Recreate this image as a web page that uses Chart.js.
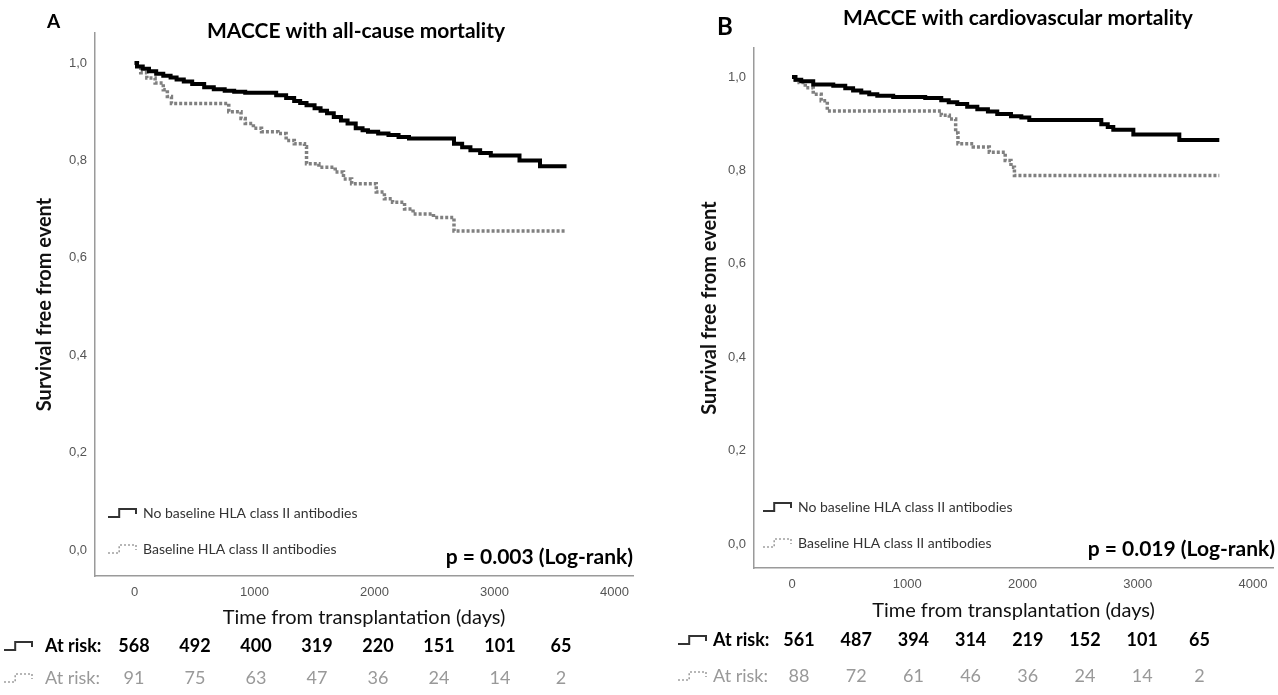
<!DOCTYPE html>
<html>
<head>
<meta charset="utf-8">
<script src="https://cdn.jsdelivr.net/npm/chart.js@4.4.1/dist/chart.umd.min.js"></script>
<style>
  html, body { margin: 0; padding: 0; background: #fff; }
  #wrap { position: relative; width: 1278px; height: 695px; overflow: hidden; }
  .panel { position: absolute; top: 0; height: 695px; }
</style>
</head>
<body>
<div id="wrap">
  <div class="panel" style="left:0;width:640px"><canvas id="chartA" width="640" height="695"></canvas></div>
  <div class="panel" style="left:640px;width:638px"><canvas id="chartB" width="638" height="695"></canvas></div>
</div>
<script>
/* ---- datos ---- */
const xTicks = [0, 1000, 2000, 3000, 4000];
const yTicks = [0, 0.2, 0.4, 0.6, 0.8, 1.0];
const seriesLabels = ['No baseline HLA class II antibodies', 'Baseline HLA class II antibodies'];

// A: MACCE with all-cause mortality
const aNoDays = [0, 20, 68, 120, 180, 239, 300, 350, 410, 480, 580, 660, 751, 830, 922, 1180, 1263, 1330, 1380, 1433, 1500, 1550, 1604, 1660, 1720, 1775, 1843, 1900, 1945, 2030, 2116, 2200, 2287, 2662, 2730, 2799, 2880, 2969, 3208, 3379, 3600];
const aNoSurv = [1.000, 0.993, 0.988, 0.983, 0.978, 0.974, 0.970, 0.966, 0.962, 0.957, 0.950, 0.946, 0.943, 0.941, 0.939, 0.934, 0.928, 0.922, 0.918, 0.913, 0.907, 0.902, 0.897, 0.889, 0.882, 0.876, 0.866, 0.862, 0.859, 0.855, 0.852, 0.848, 0.845, 0.834, 0.827, 0.821, 0.815, 0.810, 0.800, 0.788, 0.788];
const aAbDays = [0, 25, 51, 102, 171, 239, 273, 307, 785, 887, 922, 990, 1058, 1195, 1263, 1331, 1416, 1433, 1536, 1672, 1741, 1809, 2014, 2082, 2150, 2250, 2321, 2491, 2662, 3600];
const aAbSurv = [1.000, 0.989, 0.980, 0.969, 0.959, 0.945, 0.931, 0.917, 0.900, 0.886, 0.876, 0.866, 0.859, 0.855, 0.841, 0.834, 0.828, 0.793, 0.786, 0.776, 0.762, 0.752, 0.735, 0.721, 0.714, 0.700, 0.690, 0.683, 0.655, 0.655];
const aRiskNo = [568, 492, 400, 319, 220, 151, 101, 65];
const aRiskAb = [91, 75, 63, 47, 36, 24, 14, 2];

// B: MACCE with cardiovascular mortality
const bNoDays = [0, 30, 80, 184, 358, 462, 530, 601, 670, 740, 878, 1156, 1295, 1360, 1434, 1520, 1608, 1700, 1781, 1900, 1990, 2059, 2684, 2740, 2788, 2962, 3361, 3708];
const bNoSurv = [1.000, 0.994, 0.991, 0.984, 0.981, 0.976, 0.971, 0.967, 0.963, 0.960, 0.957, 0.955, 0.950, 0.946, 0.942, 0.936, 0.931, 0.926, 0.921, 0.916, 0.913, 0.908, 0.899, 0.893, 0.887, 0.877, 0.865, 0.865];
const bAbDays = [0, 30, 62, 115, 184, 253, 306, 1295, 1365, 1420, 1440, 1573, 1712, 1850, 1900, 1930, 3708];
const bAbSurv = [1.000, 0.993, 0.988, 0.977, 0.963, 0.949, 0.927, 0.918, 0.910, 0.880, 0.857, 0.850, 0.839, 0.821, 0.807, 0.789, 0.789];
const bRiskNo = [561, 487, 394, 314, 219, 152, 101, 65];
const bRiskAb = [88, 72, 61, 46, 36, 24, 14, 2];

/* ---- maquetación de cada panel ---- */
const panels = [
  {
    canvasId: 'chartA', width: 640,
    letter: 'A', letterFont: 'bold 19px Lato', letterX: 47, letterY: 22,
    title: 'MACCE with all-cause mortality', titleX: 356, titleY: 31,
    area: { left: 95, top: 33, right: 633, bottom: 576 },
    xMin: -330, xMax: 4154, yMin: -0.0534, yMax: 1.0616,
    yTitlePad: 34, xTitlePad: 6,
    legendX: 108, legendY: [513, 549],
    pText: 'p = 0.003 (Log-rank)', pX: 633, pY: 557,
    riskIconX: 4, riskLabelX: 45, riskX0: 134, riskDx: 61, riskY: [646, 678],
    noDays: aNoDays, noSurv: aNoSurv, abDays: aAbDays, abSurv: aAbSurv,
    riskNo: aRiskNo, riskAb: aRiskAb,
  },
  {
    canvasId: 'chartB', width: 638,
    letter: 'B', letterFont: 'bold 24px Lato', letterX: 77, letterY: 27,
    title: 'MACCE with cardiovascular mortality', titleX: 378, titleY: 18,
    area: { left: 114, top: 48, right: 633, bottom: 568 },
    xMin: -330, xMax: 4174, yMin: -0.051, yMax: 1.062,
    yTitlePad: 59, xTitlePad: 5,
    legendX: 123, legendY: [507, 543],
    pText: 'p = 0.019 (Log-rank)', pX: 635, pY: 549,
    riskIconX: 38, riskLabelX: 73, riskX0: 159, riskDx: 57.2, riskY: [640, 676],
    noDays: bNoDays, noSurv: bNoSurv, abDays: bAbDays, abSurv: bAbSurv,
    riskNo: bRiskNo, riskAb: bRiskAb,
  },
];

const AXIS_COLOR = '#9a9a9a';
const TICK_COLOR = '#555';

function stepIcon(ctx, x, y, w, dashed) {
  ctx.save();
  ctx.beginPath();
  ctx.moveTo(x, y + 4);
  ctx.lineTo(x + w * 0.4, y + 4);
  ctx.lineTo(x + w * 0.4, y - 4);
  ctx.lineTo(x + w, y - 4);
  ctx.lineTo(x + w, y + 1);
  ctx.lineWidth = dashed ? 1.6 : 2;
  ctx.strokeStyle = dashed ? '#a0a0a0' : '#333';
  ctx.setLineDash(dashed ? [2, 2] : []);
  ctx.stroke();
  ctx.restore();
}

function annotations(p) {
  return {
    id: 'annot_' + p.canvasId,
    afterDraw(chart) {
      const ctx = chart.ctx;
      ctx.save();
      ctx.textBaseline = 'middle';

      // letra y título
      ctx.fillStyle = '#000';
      ctx.font = p.letterFont;
      ctx.textAlign = 'left';
      ctx.fillText(p.letter, p.letterX, p.letterY);
      ctx.font = 'bold 21px Lato';
      ctx.textAlign = 'center';
      ctx.fillText(p.title, p.titleX, p.titleY);

      // leyenda dentro del área
      ctx.font = '14px Lato';
      ctx.textAlign = 'left';
      ctx.fillStyle = '#333';
      seriesLabels.forEach((lab, i) => {
        stepIcon(ctx, p.legendX, p.legendY[i], 28, i === 1);
        ctx.fillText(lab, p.legendX + 35, p.legendY[i]);
      });

      // p-valor
      ctx.font = 'bold 21px Lato';
      ctx.textAlign = 'right';
      ctx.fillStyle = '#000';
      ctx.fillText(p.pText, p.pX, p.pY);

      // tabla "At risk"
      [p.riskNo, p.riskAb].forEach((row, r) => {
        const y = p.riskY[r];
        const bold = r === 0;
        stepIcon(ctx, p.riskIconX, y, 28, !bold);
        ctx.font = (bold ? 'bold ' : '') + '18px Lato';
        ctx.fillStyle = bold ? '#000' : '#999';
        ctx.textAlign = 'left';
        ctx.fillText('At risk:', p.riskLabelX, y);
        ctx.textAlign = 'center';
        row.forEach((n, i) => ctx.fillText(String(n), p.riskX0 + i * p.riskDx, y));
      });
      ctx.restore();
    },
  };
}

function toPoints(days, surv) {
  return days.map((d, i) => ({ x: d, y: surv[i] }));
}

panels.forEach(p => {
  const ctx = document.getElementById(p.canvasId);
  const X_AXIS_H = 60;

  new Chart(ctx, {
    type: 'line',
    data: {
      datasets: [
        {
          label: seriesLabels[0],
          data: toPoints(p.noDays, p.noSurv),
          stepped: true,
          borderColor: '#000',
          borderWidth: 4,
          pointRadius: 0,
          fill: false,
        },
        {
          label: seriesLabels[1],
          data: toPoints(p.abDays, p.abSurv),
          stepped: true,
          borderColor: '#808080',
          borderWidth: 3.5,
          borderDash: [3, 2],
          pointRadius: 0,
          fill: false,
        },
      ],
    },
    options: {
      responsive: false,
      animation: false,
      devicePixelRatio: 1,
      layout: {
        padding: {
          left: 0,
          top: p.area.top,
          right: p.width - p.area.right,
          bottom: 695 - p.area.bottom - X_AXIS_H,
        },
      },
      plugins: {
        legend: { display: false },
        tooltip: { enabled: false },
      },
      scales: {
        x: {
          type: 'linear',
          min: p.xMin,
          max: p.xMax,
          afterBuildTicks: s => { s.ticks = xTicks.map(v => ({ value: v })); },
          afterFit: s => { s.height = X_AXIS_H; },
          grid: { display: false, drawTicks: false },
          border: { display: true, color: AXIS_COLOR, width: 1.5 },
          ticks: {
            color: TICK_COLOR,
            padding: 9,
            maxRotation: 0,
            font: { family: "'Liberation Sans', Arial, sans-serif", size: 13 },
            callback: v => String(v),
          },
          title: {
            display: true,
            text: 'Time from transplantation (days)',
            color: '#111',
            font: { family: 'Lato', size: 20 },
            padding: { top: 0, bottom: p.xTitlePad },
          },
        },
        y: {
          type: 'linear',
          min: p.yMin,
          max: p.yMax,
          afterBuildTicks: s => { s.ticks = yTicks.map(v => ({ value: v })); },
          afterFit: s => { s.width = p.area.left; },
          grid: { display: false, drawTicks: false },
          border: { display: true, color: AXIS_COLOR, width: 1.5 },
          ticks: {
            color: TICK_COLOR,
            padding: 8,
            font: { family: "'Liberation Sans', Arial, sans-serif", size: 13 },
            callback: v => v.toFixed(1).replace('.', ','),
          },
          title: {
            display: true,
            text: 'Survival free from event',
            color: '#111',
            font: { family: 'Lato', size: 20, weight: 'bold' },
            padding: { top: p.yTitlePad - 1, bottom: 0 },
          },
        },
      },
    },
    plugins: [annotations(p)],
  });
});
</script>
</body>
</html>
